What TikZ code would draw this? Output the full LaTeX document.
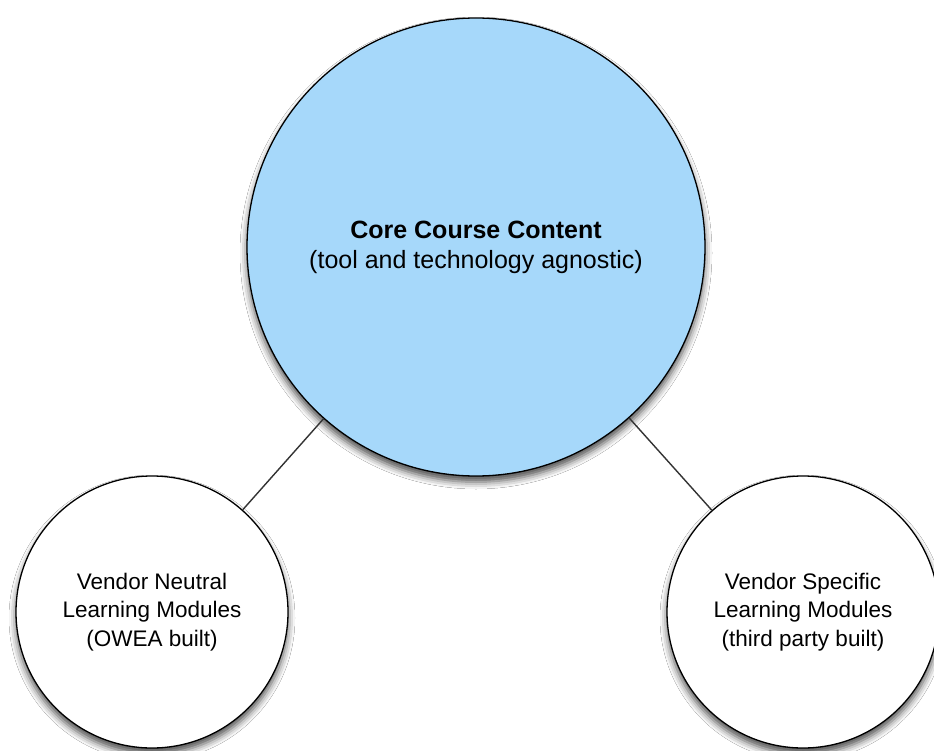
\documentclass[tikz,border=0pt]{standalone}
\usepackage{fontspec}
\setmainfont{Liberation Sans}
\usetikzlibrary{shadows.blur}
\definecolor{coreblue}{RGB}{166,216,250}
\begin{document}
\begin{tikzpicture}[x=1pt,y=-1pt,
  bubble/.style={circle, draw=black, line width=1.3pt, inner sep=0pt, align=center,
    blur shadow={shadow xshift=0pt, shadow yshift=-6pt, shadow blur radius=7pt, shadow opacity=70}},
  link/.style={draw=black!80, line width=1.4pt}]
\useasboundingbox[fill=white] (0,0) rectangle (934,751);
\node[bubble, fill=coreblue, minimum size=458pt, font=\fontsize{25}{30}\selectfont] (core) at (476,247)
  {\textbf{Core Course Content}\\(tool and technology agnostic)};
\node[bubble, fill=white, minimum size=272pt, font=\fontsize{22.5}{28.5}\selectfont] (neutral) at (152,612)
  {Vendor Neutral\\Learning Modules\\(OWEA built)};
\node[bubble, fill=white, minimum size=272pt, font=\fontsize{22.5}{28.5}\selectfont] (specific) at (803,612)
  {Vendor Specific\\Learning Modules\\(third party built)};
\draw[link] (core) -- (neutral);
\draw[link] (core) -- (specific);
\end{tikzpicture}
\end{document}
